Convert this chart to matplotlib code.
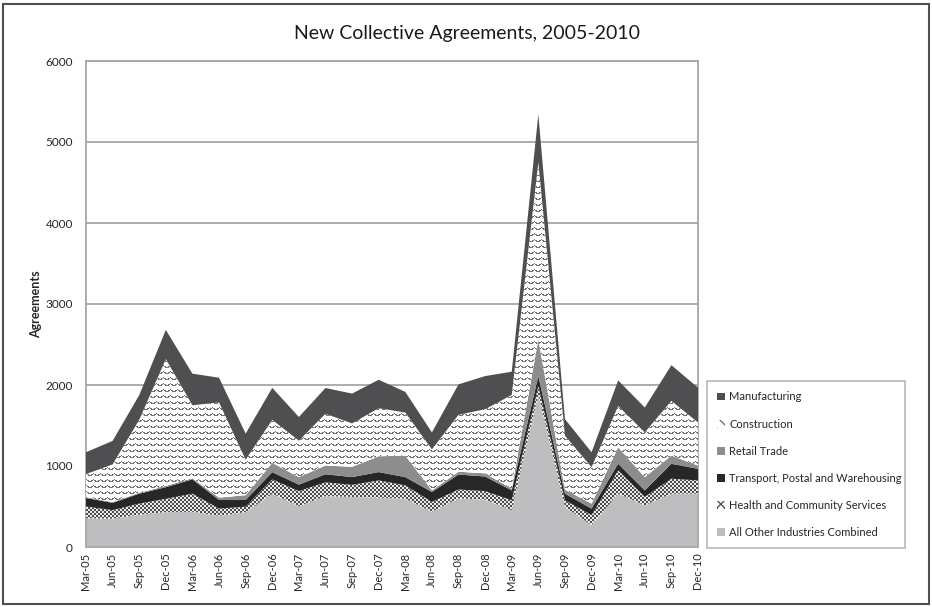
import numpy as np
import matplotlib
matplotlib.use("Agg")
import matplotlib.pyplot as plt
from matplotlib.patches import Patch, Rectangle

quarters = ["Mar-05", "Jun-05", "Sep-05", "Dec-05", "Mar-06", "Jun-06", "Sep-06", "Dec-06",
            "Mar-07", "Jun-07", "Sep-07", "Dec-07", "Mar-08", "Jun-08", "Sep-08", "Dec-08",
            "Mar-09", "Jun-09", "Sep-09", "Dec-09", "Mar-10", "Jun-10", "Sep-10", "Dec-10"]

all_other = [355, 350, 400, 430, 435, 385, 430, 658, 505, 628, 618, 610,
             597, 434, 600, 585, 454, 1885, 495, 270, 658, 515, 658, 658]
health = [145, 105, 136, 165, 223, 89, 68, 177, 185, 170, 149, 212,
          164, 122, 110, 105, 123, 103, 82, 123, 287, 103, 185, 164]
transport = [105, 90, 122, 143, 177, 106, 82, 89, 80, 100, 96, 103,
             102, 123, 185, 180, 122, 122, 81, 81, 82, 81, 184, 143]
retail = [10, 10, 12, 17, 15, 30, 60, 116, 93, 108, 127, 195,
          266, 21, 35, 40, 21, 460, 50, 62, 204, 164, 102, 41]
construction = [285, 465, 900, 1565, 900, 1175, 438, 530, 450, 639, 536, 594,
                531, 505, 702, 791, 1157, 2180, 666, 450, 511, 552, 675, 532]
manufacturing = [270, 290, 305, 360, 390, 305, 322, 395, 292, 318, 368, 351,
                 255, 210, 376, 409, 287, 590, 205, 184, 315, 307, 441, 429]

series = [
    ("All Other Industries Combined", all_other),
    ("Health and Community Services", health),
    ("Transport, Postal and Warehousing", transport),
    ("Retail Trade", retail),
    ("Construction", construction),
    ("Manufacturing", manufacturing),
]

FONT = ["Lato", "DejaVu Sans"]
plt.rcParams["font.family"] = FONT

W, H = 932, 607
fig = plt.figure(figsize=(W / 100, H / 100), dpi=100)
fig.patch.set_facecolor("white")

left_px, right_px, top_px, bot_px = 86, 698, 61, 547
ax = fig.add_axes([left_px / W, 1 - bot_px / H, (right_px - left_px) / W, (bot_px - top_px) / H])

x = np.arange(len(quarters))

# textures (pure styling patterns)
tw, th = right_px - left_px, bot_px - top_px
yy, xx = np.mgrid[0:th, 0:tw]
tri = np.abs(((xx % 7) - 3.5)) / 3.5 * 2.4
zig = ((yy + tri) % 6.0) < 1.2
zig_img = np.ones((th, tw, 3))
zig_img[zig] = np.array([115, 115, 118]) / 255
chk = ((xx // 2 + yy // 2) % 2) == 0
chk_img = np.full((th, tw, 3), 235 / 255)
chk_img[chk] = np.array([75, 75, 78]) / 255

colors = {
    "All Other Industries Combined": "#bebec0",
    "Transport, Postal and Warehousing": "#272727",
    "Retail Trade": "#8d8d8f",
    "Manufacturing": "#4f4f51",
}
textures = {
    "Health and Community Services": chk_img,
    "Construction": zig_img,
}

base = np.zeros(len(quarters))
for i, (name, vals) in enumerate(series):
    top = base + np.array(vals, dtype=float)
    z = 2 + i
    if name in textures:
        poly = ax.fill_between(x, base, top, facecolor="white", edgecolor="none", linewidth=0, zorder=z)
        im = ax.imshow(textures[name], extent=(0, len(quarters) - 1, 0, 6000), aspect="auto",
                       interpolation="nearest", zorder=z + 0.5, origin="upper")
        im.set_clip_path(poly.get_paths()[0], ax.transData)
    else:
        ax.fill_between(x, base, top, facecolor=colors[name], edgecolor="none", linewidth=0, zorder=z)
    base = top

ax.set_xlim(0, len(quarters) - 1)
ax.set_ylim(0, 6000)
ax.set_yticks(np.arange(0, 6001, 1000))
ax.set_xticks(x)
ax.set_xticklabels(quarters, rotation=90, fontsize=8, color="#262626")
ax.tick_params(axis="y", labelsize=8.5, length=0, pad=9.5, colors="#262626")
ax.tick_params(axis="x", length=0, pad=4)
ax.grid(axis="y", color="#a6a6a8", linewidth=1.3, zorder=0)
ax.set_axisbelow(True)
for s in ax.spines.values():
    s.set_color("#a6a6a8")
    s.set_linewidth(1.3)

ax.set_ylabel("Agreements", fontsize=9, fontweight="bold", color="#262626", labelpad=2)

fig.text(467 / W, 1 - 33 / H, "New Collective Agreements, 2005-2010", ha="center", va="center",
         fontsize=14, color="#1a1a1a")

# legend
handles = [
    Patch(facecolor=colors["Manufacturing"], edgecolor="none", label="Manufacturing"),
    Patch(facecolor="white", edgecolor="#777777", hatch="\\\\\\", linewidth=0, label="Construction"),
    Patch(facecolor=colors["Retail Trade"], edgecolor="none", label="Retail Trade"),
    Patch(facecolor=colors["Transport, Postal and Warehousing"], edgecolor="none",
          label="Transport, Postal and Warehousing"),
    Patch(facecolor="white", edgecolor="#555555", hatch="xxxx", linewidth=0,
          label="Health and Community Services"),
    Patch(facecolor=colors["All Other Industries Combined"], edgecolor="none",
          label="All Other Industries Combined"),
]
leg = fig.legend(handles=handles, loc="lower left",
                 bbox_to_anchor=(707 / W, 1 - 548 / H, (905 - 707) / W, (548 - 388) / H),
                 mode="expand", fontsize=8, frameon=True, fancybox=False,
                 handlelength=0.7, handleheight=0.7, handletextpad=0.4,
                 labelspacing=1.45, borderpad=0.9, borderaxespad=0)
leg.get_frame().set_edgecolor("#a6a6a8")
leg.get_frame().set_linewidth(1.2)
for t in leg.get_texts():
    t.set_color("#262626")

# outer frame
fig.add_artist(Rectangle((3 / W, 3 / H), (W - 6) / W, (H - 7) / H, transform=fig.transFigure,
                         fill=False, edgecolor="#505050", linewidth=1.5))

fig.savefig("out.png", dpi=100, facecolor="white")
